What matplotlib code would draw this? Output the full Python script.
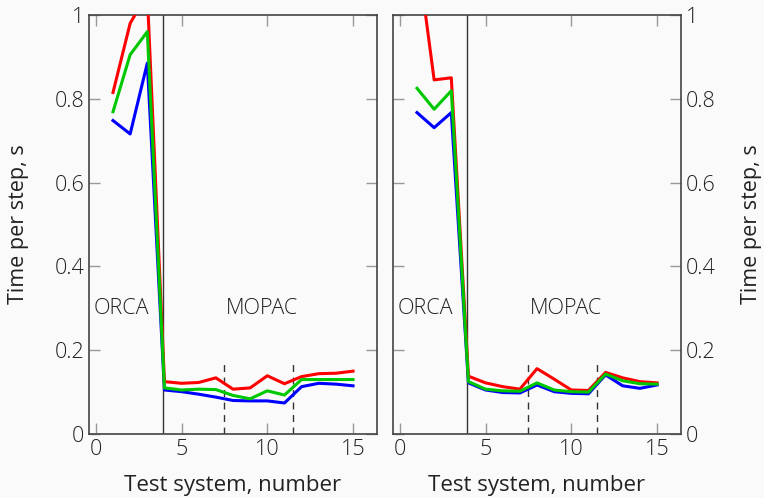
import matplotlib
matplotlib.use("Agg")
import matplotlib.pyplot as plt

plt.rcParams['font.family'] = ['Open Sans', 'DejaVu Sans']
plt.rcParams['font.weight'] = 'light'

# test systems
x_values = list(range(1, 16))

# left panel
left_red = [0.815, 0.98, 1.05, 0.125, 0.121, 0.123, 0.134, 0.107, 0.110, 0.139, 0.120, 0.137, 0.144, 0.145, 0.150]
left_green = [0.769, 0.905, 0.96, 0.110, 0.105, 0.107, 0.106, 0.092, 0.084, 0.103, 0.093, 0.130, 0.130, 0.130, 0.130]
left_blue = [0.748, 0.716, 0.885, 0.105, 0.101, 0.095, 0.088, 0.080, 0.079, 0.079, 0.074, 0.113, 0.121, 0.119, 0.115]

# right panel
right_red = [1.155, 0.845, 0.85, 0.138, 0.122, 0.113, 0.107, 0.156, 0.131, 0.105, 0.104, 0.147, 0.134, 0.125, 0.122]
right_green = [0.825, 0.775, 0.819, 0.125, 0.107, 0.103, 0.102, 0.122, 0.105, 0.101, 0.100, 0.143, 0.127, 0.120, 0.119]
right_blue = [0.767, 0.731, 0.767, 0.122, 0.105, 0.099, 0.098, 0.117, 0.101, 0.097, 0.096, 0.141, 0.115, 0.109, 0.117]

yticks = [0, 0.2, 0.4, 0.6, 0.8, 1]
ytick_labels = ['0', '0.2', '0.4', '0.6', '0.8', '1']
xticks = [0, 5, 10, 15]

bg = '#fafafa'
fs = 15.5
fig = plt.figure(figsize=(7.64, 4.98), dpi=100, facecolor=bg)
ax1 = fig.add_axes([0.1165, 0.1285, 0.377, 0.8415])
ax2 = fig.add_axes([0.5144, 0.1285, 0.377, 0.8415])

panels = [(ax1, left_red, left_green, left_blue, 'left'),
          (ax2, right_red, right_green, right_blue, 'right')]

for ax, red, green, blue, side in panels:
    ax.set_facecolor(bg)
    ax.plot(x_values, red, color='#ff0000', lw=2.2, zorder=3)
    ax.plot(x_values, green, color='#00c800', lw=2.2, zorder=4)
    ax.plot(x_values, blue, color='#0000ff', lw=2.2, zorder=2)

    # separators
    ax.plot([3.9, 3.9], [0, 1], color='#333333', lw=1.0, zorder=1)
    ax.plot([7.5, 7.5], [0, 0.18], color='#333333', lw=1.0, ls=(0, (5, 4)), zorder=1)
    ax.plot([11.5, 11.5], [0, 0.18], color='#333333', lw=1.0, ls=(0, (5, 4)), zorder=1)

    ax.text(1.5, 0.30, 'ORCA', ha='center', va='center', fontsize=fs, color='#222222')
    ax.text(9.7, 0.30, 'MOPAC', ha='center', va='center', fontsize=fs, color='#222222')

    ax.set_xlim(-0.4, 16.4)
    ax.set_ylim(0, 1)
    ax.set_xticks(xticks)
    ax.set_yticks(yticks)
    ax.set_yticklabels(ytick_labels)
    ax.tick_params(direction='in', length=8, width=1, color='#999999',
                   labelsize=fs, labelcolor='#222222', top=True, right=True)
    for s in ax.spines.values():
        s.set_color('#444444')
        s.set_linewidth(1.2)
    ax.set_xlabel('Test system, number', fontsize=fs + 0.5, color='#222222', labelpad=11)
    ax.set_ylabel('Time per step, s', fontsize=fs, color='#222222', labelpad=18)
    if side == 'right':
        ax.yaxis.set_label_position('right')
        ax.tick_params(labelleft=False, labelright=True)

fig.savefig('out.png', dpi=100, facecolor=bg)
